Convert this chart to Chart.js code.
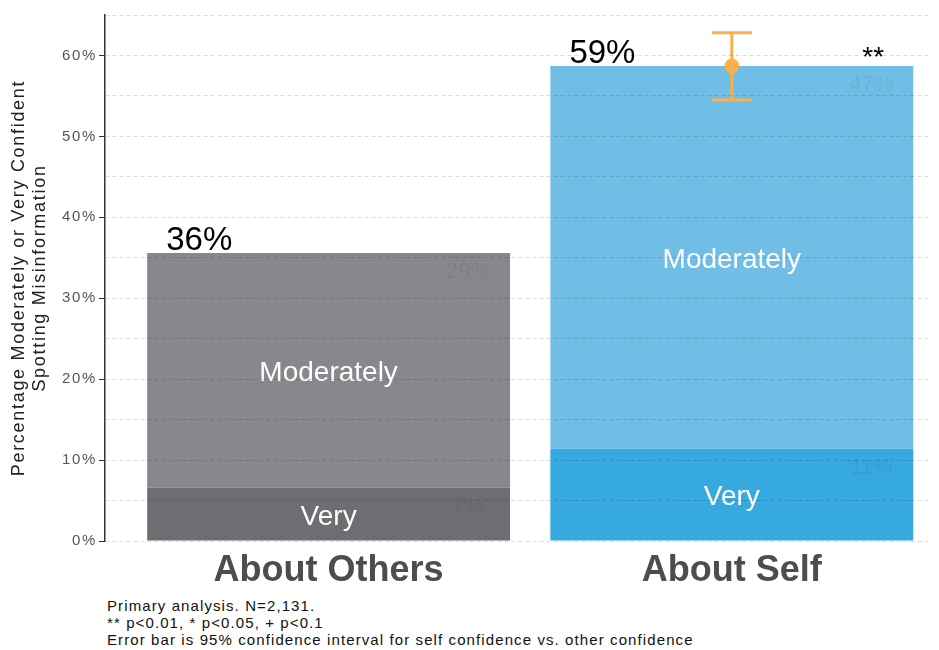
<!DOCTYPE html>
<html>
<head>
<meta charset="utf-8">
<script src="https://cdn.jsdelivr.net/npm/chart.js@4"></script>
<style>
  body { margin: 0; background: #fff; }
  #wrap { position: relative; width: 939px; height: 650px; overflow: hidden; }
  #notes { position: absolute; left: 107px; top: 597px; font: 15px 'Liberation Sans', Arial, sans-serif; letter-spacing: 1.1px; line-height: 17px; color: #111; white-space: nowrap; }
</style>
</head>
<body>
<div id="wrap">
  <canvas id="ctx-conf" width="939" height="595"></canvas>
  <div id="notes">
    Primary analysis. N=2,131.<br>
    ** p&lt;0.01, * p&lt;0.05, + p&lt;0.1<br>
    Error bar is 95% confidence interval for self confidence vs. other confidence
  </div>
</div>
<script>
const categories = ['About Others', 'About Self'];
const segments = ['Very', 'Moderately'];
const veryPct = [6.6, 11.4];
const moderatelyPct = [29.0, 47.3];
const errMid = [null, 58.7];
const errLow = [null, 54.5];
const errHigh = [null, 62.8];
const sigMarks = ['', '**'];
const yTicks = [0, 10, 20, 30, 40, 50, 60];
const yTitle = ['Percentage Moderately or Very Confident', 'Spotting Misinformation'];

const veryColors = ['#6e6e72', '#35a9e0'];
const modColors = ['#88888c', '#70bee6'];
const errColor = '#f9af4a';
const font = "'Liberation Sans', Arial, sans-serif";

const xPos = categories.map((c, i) => i + 1);

// small axis text in the original is set wider, so space it out
const spacing = {
    id: 'spacing',
    beforeDraw(chart) { chart.ctx.letterSpacing = '1.7px'; },
    beforeDatasetsDraw(chart) { chart.ctx.letterSpacing = '0px'; }
};

const barText = {
    id: 'barText',
    afterDatasetsDraw(chart) {
        const ctx = chart.ctx;
        const metas = [chart.getDatasetMeta(0), chart.getDatasetMeta(1)];
        const values = [veryPct, moderatelyPct];
        ctx.save();
        categories.forEach((c, i) => {
            metas.forEach((meta, k) => {
                const bar = meta.data[i];
                ctx.fillStyle = '#ffffff';
                ctx.font = '28px ' + font;
                ctx.textAlign = 'center';
                ctx.textBaseline = 'middle';
                ctx.fillText(segments[k], bar.x, (bar.y + bar.base) / 2 + 3);
                // faint segment value
                ctx.fillStyle = 'rgba(0,0,0,0.06)';
                ctx.font = '22px ' + font;
                ctx.fillText(Math.round(values[k][i]) + '%', bar.x + bar.width / 2 - 42, bar.y + 19);
            });
            const top = metas[1].data[i];
            ctx.fillStyle = '#000';
            ctx.font = '33px ' + font;
            ctx.textAlign = 'left';
            ctx.textBaseline = 'alphabetic';
            ctx.fillText(Math.round(veryPct[i] + moderatelyPct[i]) + '%', top.x - top.width / 2 + 19, top.y - 3);
            if (sigMarks[i]) {
                ctx.textAlign = 'center';
                ctx.font = '28px ' + font;
                ctx.fillText(sigMarks[i], top.x + top.width / 2 - 40, top.y);
            }
        });

        // error bar whiskers
        const xs = chart.scales.x, ys = chart.scales.y;
        ctx.strokeStyle = errColor;
        ctx.lineWidth = 3;
        errMid.forEach((m, i) => {
            if (m === null) return;
            const px = xs.getPixelForValue(xPos[i]);
            const lo = ys.getPixelForValue(errLow[i]);
            const hi = ys.getPixelForValue(errHigh[i]);
            ctx.beginPath();
            ctx.moveTo(px, lo); ctx.lineTo(px, hi);
            ctx.moveTo(px - 20, lo); ctx.lineTo(px + 20, lo);
            ctx.moveTo(px - 20, hi); ctx.lineTo(px + 20, hi);
            ctx.stroke();
        });
        ctx.restore();
    },
    afterDraw(chart) {
        // y axis title, spaced like the original
        const ctx = chart.ctx;
        const area = chart.chartArea;
        ctx.save();
        ctx.letterSpacing = '1.7px';
        ctx.fillStyle = '#222';
        ctx.font = '18px ' + font;
        ctx.textAlign = 'center';
        ctx.textBaseline = 'middle';
        ctx.translate(0, (area.top + area.bottom) / 2);
        ctx.rotate(-Math.PI / 2);
        yTitle.forEach((line, j) => ctx.fillText(line, 0, 19 + j * 21.5));
        ctx.restore();
    }
};

new Chart(document.getElementById('ctx-conf'), {
    type: 'bar',
    data: {
        datasets: [
            {
                label: segments[0],
                data: xPos.map((x, i) => ({ x: x, y: veryPct[i] })),
                backgroundColor: veryColors,
                stack: 'conf',
                categoryPercentage: 0.9,
                barPercentage: 1.0
            },
            {
                label: segments[1],
                data: xPos.map((x, i) => ({ x: x, y: moderatelyPct[i] })),
                backgroundColor: modColors,
                stack: 'conf',
                categoryPercentage: 0.9,
                barPercentage: 1.0
            },
            {
                type: 'scatter',
                label: 'CI',
                data: xPos.map((x, i) => ({ x: x, y: errMid[i] })).filter(p => p.y !== null),
                stack: 'err',
                pointRadius: 7,
                pointBackgroundColor: errColor,
                pointBorderColor: errColor,
                order: -1
            }
        ]
    },
    options: {
        responsive: false,
        animation: false,
        layout: { padding: { top: 15, right: 0, bottom: 0, left: 0 } },
        plugins: { legend: { display: false }, tooltip: { enabled: false } },
        scales: {
            x: {
                type: 'linear',
                stacked: true,
                offset: false,
                min: 0.4454,
                max: 2.494,
                afterFit: (scale) => { scale.height = 54; },
                afterBuildTicks: (scale) => { scale.ticks = xPos.map(v => ({ value: v })); },
                ticks: {
                    callback: (v) => categories[v - 1] || '',
                    font: { family: font, size: 36, weight: 'bold' },
                    color: '#4d4d4d',
                    padding: 0,
                    maxRotation: 0,
                    autoSkip: false,
                    z: 2
                },
                grid: { display: false },
                border: { display: false }
            },
            y: {
                stacked: true,
                min: 0,
                max: 65,
                afterFit: (scale) => { scale.width = 105; },
                ticks: {
                    stepSize: 5,
                    callback: (v) => yTicks.includes(v) ? v + '%' : '',
                    font: { family: font, size: 15 },
                    color: '#555',
                    padding: 2
                },
                grid: {
                    z: 1,
                    color: 'rgba(0,0,0,0.14)',
                    tickColor: (c) => (c.tick && yTicks.includes(c.tick.value)) ? '#333' : 'rgba(0,0,0,0)',
                    tickLength: 6,
                    tickBorderDash: []
                },
                border: { display: true, color: '#333', width: 1.5, dash: [4, 3], z: 1 },
                title: { display: false }
            }
        }
    },
    plugins: [spacing, barText]
});
</script>
</body>
</html>
